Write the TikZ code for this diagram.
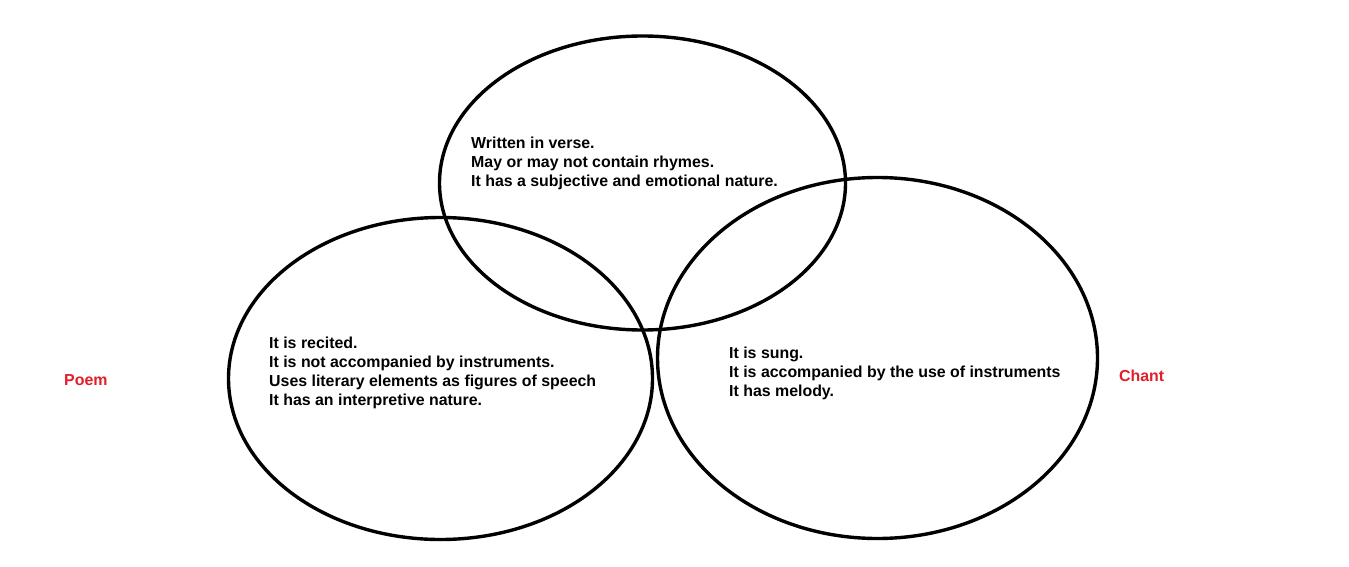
\documentclass[tikz,border=0pt]{standalone}
\usepackage{fontspec}
\setmainfont{Liberation Sans}
\usetikzlibrary{shapes.geometric}
\definecolor{labelred}{RGB}{226,30,42}
\tikzset{
  ring/.style={ellipse, draw=black, line width=3.4pt, inner sep=0pt},
  body/.style={font=\fontsize{15.9}{19}\selectfont\bfseries, align=left, anchor=north west, inner sep=0pt},
  tag/.style={font=\fontsize{15.9}{19}\selectfont\bfseries, text=labelred, anchor=west, inner sep=0pt}
}
\begin{document}
\begin{tikzpicture}[x=1pt,y=-1pt]
\useasboundingbox (0,0) rectangle (1349,567);
\fill[white] (0,0) rectangle (1349,567);
\node[ring, minimum width=406pt, minimum height=294pt] (top) at (642.5,183) {};
\node[ring, minimum width=424pt, minimum height=322pt] (left) at (440.5,378.5) {};
\node[ring, minimum width=440pt, minimum height=361pt] (right) at (877.5,358) {};
\node[body] (toptext) at (471,137) {Written in verse.\\May or may not contain rhymes.\\It has a subjective and emotional nature.};
\node[body] (lefttext) at (269,337) {It is recited.\\It is not accompanied by instruments.\\Uses literary elements as figures of speech\\It has an interpretive nature.};
\node[body] (righttext) at (729,347) {It is sung.\\It is accompanied by the use of instruments\\It has melody.};
\node[tag] (poem) at (64,380) {Poem};
\node[tag] (chant) at (1119,376) {Chant};
\end{tikzpicture}
\end{document}
